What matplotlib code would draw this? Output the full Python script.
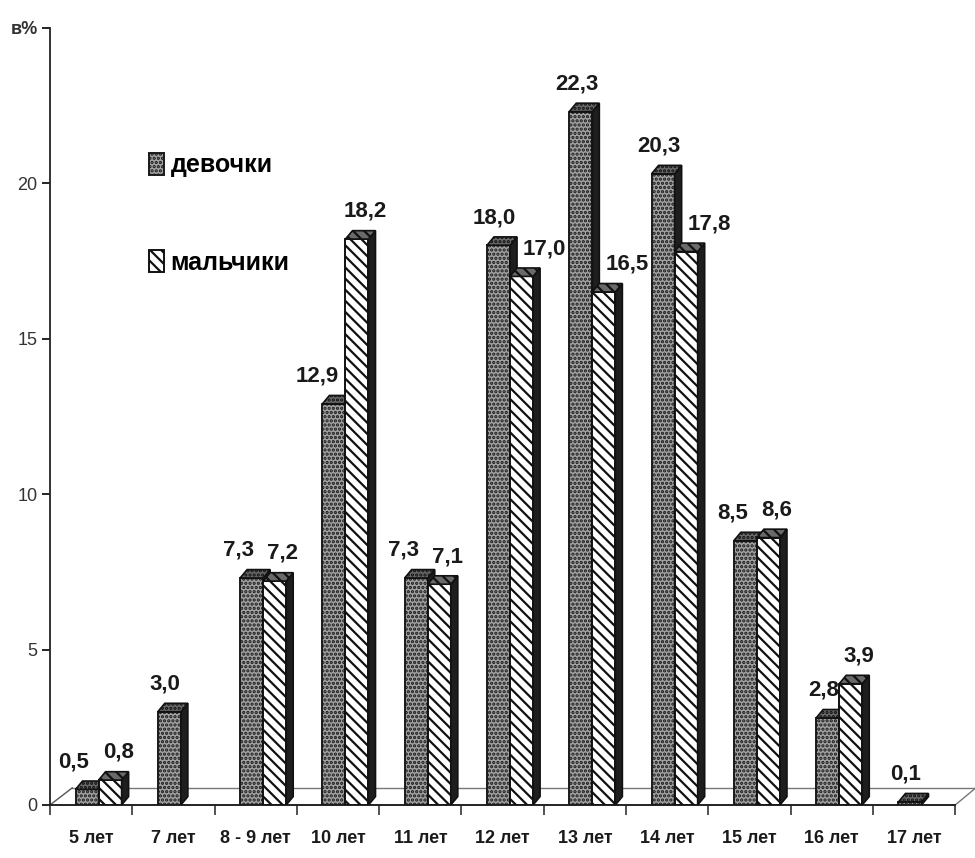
import numpy as np
import matplotlib
matplotlib.use('Agg')
import matplotlib.pyplot as plt
from matplotlib.patches import Polygon, Patch

# data
categories = ['5 лет', '7 лет', '8 - 9 лет', '10 лет', '11 лет', '12 лет',
              '13 лет', '14 лет', '15 лет', '16 лет', '17 лет']
girls = [0.5, 3.0, 7.3, 12.9, 7.3, 18.0, 22.3, 20.3, 8.5, 2.8, 0.1]
boys = [0.8, np.nan, 7.2, 18.2, 7.1, 17.0, 16.5, 17.8, 8.6, 3.9, np.nan]
series_names = ['девочки', 'мальчики']
yticks = [0, 5, 10, 15, 20, 25]
ytick_labels = ['0', '5', '10', '15', '20', 'в%']

plt.rcParams['hatch.linewidth'] = 1.6
FONT = ['Liberation Sans', 'DejaVu Sans']

fig = plt.figure(figsize=(9.75, 8.58), dpi=100)
ax = fig.add_axes([0.0513, 0.0618, 0.9487, 0.906])

x = np.arange(len(categories))
w = 0.28
dx, dy = 0.085, 0.27

girl_style = dict(facecolor='#a2a2a2', edgecolor='#1a1a1a', hatch='....', linewidth=1.4)
boy_style = dict(facecolor='white', edgecolor='#111111', hatch='\\\\\\', linewidth=1.4)


def draw_series(xleft, vals, style, z):
    vals = np.asarray(vals, dtype=float)
    ok = ~np.isnan(vals)
    ax.bar(xleft[ok], vals[ok], width=w, align='edge', zorder=z, **style)
    for x0, h in zip(xleft[ok], vals[ok]):
        side = Polygon([(x0 + w, 0), (x0 + w + dx, dy), (x0 + w + dx, h + dy), (x0 + w, h)],
                       closed=True, facecolor='#1e1e1e', edgecolor='#111111', lw=1.2, zorder=z)
        top = Polygon([(x0, h), (x0 + dx, h + dy), (x0 + w + dx, h + dy), (x0 + w, h)],
                      closed=True, facecolor='#6a6a6a', edgecolor='#111111', lw=1.2,
                      hatch=style['hatch'], zorder=z)
        ax.add_patch(side)
        ax.add_patch(top)


girls_left = x - 0.19
boys_left = x + 0.09
draw_series(girls_left, girls, girl_style, 3)
draw_series(boys_left, boys, boy_style, 4)

# value labels
lab_font = dict(family=FONT, fontweight='bold', fontsize=16, color='#1a1a1a')
for i in range(len(categories)):
    g, b = girls[i], boys[i]
    if not np.isnan(g):
        shift = -0.05
        if not np.isnan(b) and abs(b - g) <= 0.5:
            shift = -0.16
        elif not np.isnan(b) and b - g > 2:
            shift = -0.2
        ax.text(girls_left[i] + w / 2 + shift, g + 0.55, f'{g:.1f}'.replace('.', ','),
                ha='center', va='bottom', zorder=6, **lab_font)
    if not np.isnan(b):
        shift = 0.1
        if not np.isnan(g) and g - b > 0.5:
            shift = 0.28
        ax.text(boys_left[i] + w / 2 + shift, b + 0.55, f'{b:.1f}'.replace('.', ','),
                ha='center', va='bottom', zorder=6, **lab_font)

# floor of the pseudo-3D box
n = len(categories)
ax.plot([-0.5, n - 0.5], [0, 0], color='#222222', lw=1.4, zorder=2, clip_on=False)
ax.plot([-0.5 + 0.27, n - 0.5 + 0.25], [0.55, 0.55], color='#777777', lw=1.0, zorder=1)
ax.plot([-0.5, -0.5 + 0.27], [0, 0.55], color='#555555', lw=1.0, zorder=1)
ax.plot([n - 0.5, n - 0.5 + 0.25], [0, 0.55], color='#777777', lw=1.0, zorder=1)

ax.set_xlim(-0.5, n - 0.5 + 0.24)
ax.set_ylim(0, 25)

for s in ['top', 'right', 'bottom']:
    ax.spines[s].set_visible(False)
ax.spines['left'].set_color('#222222')
ax.spines['left'].set_linewidth(1.3)

ax.set_yticks(yticks)
ax.set_yticklabels(ytick_labels, family=FONT, fontsize=13, color='#333333')
ax.get_yticklabels()[-1].set_fontweight('bold')
ax.tick_params(axis='y', direction='out', length=6, width=1.2, pad=3)

ax.set_xticks(x)
ax.set_xticklabels(categories, family=FONT, fontweight='bold', fontsize=13, color='#1a1a1a')
ax.set_xticks(np.arange(-0.5, n), minor=True)
ax.tick_params(axis='x', which='major', length=0, pad=18)
ax.tick_params(axis='x', which='minor', direction='out', length=7, width=1.2, color='#333333')

handles = [Patch(**girl_style), Patch(**boy_style)]
ax.legend(handles, series_names, loc='upper left', bbox_to_anchor=(0.083, 0.868),
          frameon=False, handlelength=0.6, handleheight=1.0, handletextpad=0.25,
          labelspacing=2.9, prop=dict(family=FONT, weight='bold', size=18))

fig.savefig('out.png', dpi=100, facecolor='white')
